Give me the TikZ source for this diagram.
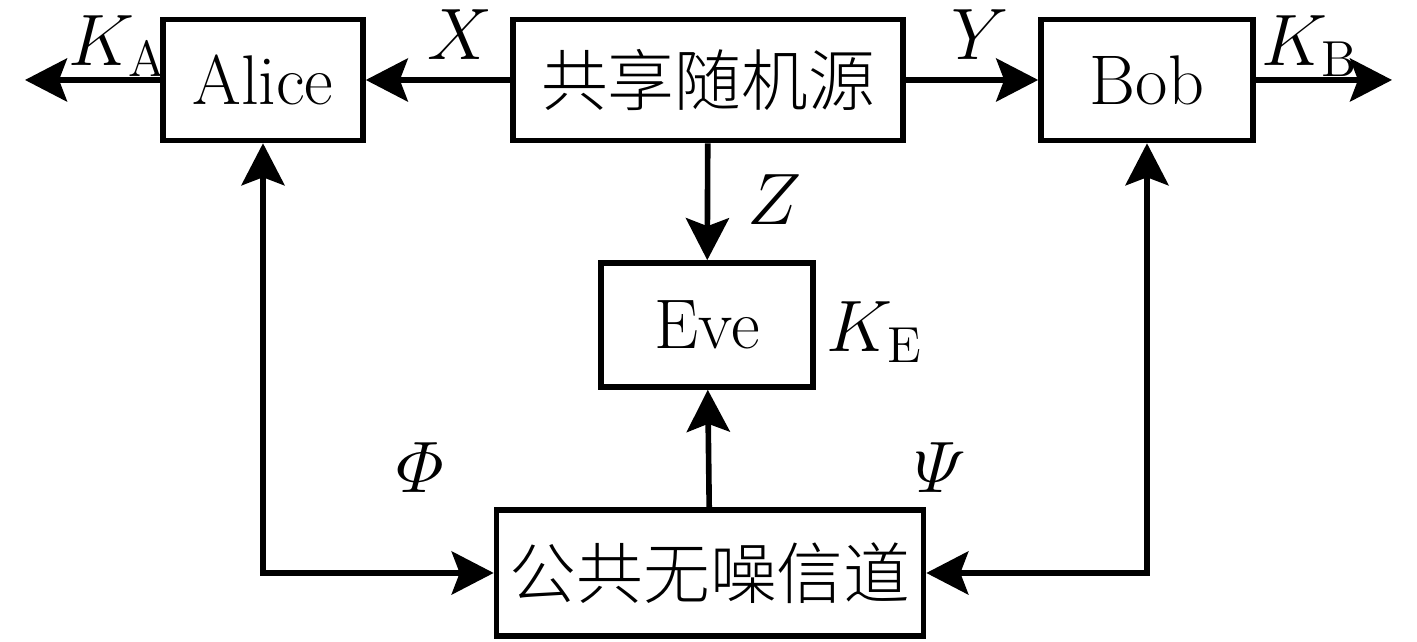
\documentclass[tikz,border=0pt]{standalone}
\usepackage{amsmath}
\usepackage[no-math]{fontspec}
\newfontfamily\cjk{Noto Sans CJK SC Light}
\usepackage{tikz}
\usetikzlibrary{arrows.meta, positioning}

\begin{document}
\begin{tikzpicture}[
            font=\fontsize{20}{24}\selectfont,
            blk/.style={draw, line width=1.6pt, inner sep=0pt},
            link/.style={line width=1.6pt, -{Stealth[length=4.2mm, width=4.3mm, inset=0.8mm]}},
        ]
            \useasboundingbox (0,0) rectangle (14.17,6.42);
            % boxes
            \node[blk, minimum width=2.0cm, minimum height=1.21cm] (alice) at (2.63,5.62) {Alice};
            \node[blk, minimum width=3.9cm, minimum height=1.21cm] (src) at (7.08,5.62) {\cjk\fontsize{19}{22}\selectfont 共享随机源};
            \node[blk, minimum width=2.12cm, minimum height=1.21cm] (bob) at (11.47,5.62) {Bob};
            \node[blk, minimum width=2.12cm, minimum height=1.24cm] (eve) at (7.07,3.17) {Eve};
            \node[blk, minimum width=4.27cm, minimum height=1.26cm] (chan) at (7.10,0.69) {\cjk\fontsize{19}{22}\selectfont 公共无噪信道};
            \coordinate (outA) at (0.25,5.62);
            \coordinate (outB) at (13.92,5.62);
            % arrows
            \draw[link] (src) -- (alice);
            \draw[link] (src) -- (bob);
            \draw[link] (alice) -- (outA);
            \draw[link] (bob) -- (outB);
            \draw[link] (src) -- (eve);
            \draw[link] (chan) -- (eve);
            \draw[link, {Stealth[length=4.2mm, width=4.3mm, inset=0.8mm]}-{Stealth[length=4.2mm, width=4.3mm, inset=0.8mm]}] (alice.south) |- (chan.west);
            \draw[link, {Stealth[length=4.2mm, width=4.3mm, inset=0.8mm]}-{Stealth[length=4.2mm, width=4.3mm, inset=0.8mm]}] (bob.south) |- (chan.east);
            % labels
            \node (ka) at (1.18,5.96) {$K_\mathrm{A}$};
            \node (x) at (4.60,6.07) {$X$};
            \node (y) at (9.80,6.07) {$Y$};
            \node (kb) at (13.10,5.96) {$K_\mathrm{B}$};
            \node (z) at (7.75,4.42) {$Z$};
            \node (ke) at (8.75,3.10) {$K_\mathrm{E}$};
            \node (phi) at (4.20,1.74) {$\varPhi$};
            \node (psi) at (9.40,1.74) {$\varPsi$};
        \end{tikzpicture}
\end{document}
